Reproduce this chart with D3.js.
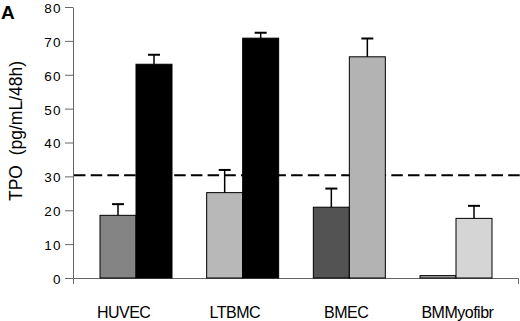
<!DOCTYPE html>
<html>
<head>
<meta charset="utf-8">
<script src="https://cdn.jsdelivr.net/npm/d3@7"></script>
<style>
  body { margin: 0; background: #fff; }
  svg { display: block; font-family: "Liberation Sans", Arial, sans-serif; }
</style>
</head>
<body>
<div id="chart"></div>
<script>
// data
const categories = ["HUVEC", "LTBMC", "BMEC", "BMMyofibr"];
const series = ["basal", "stimulated"];
const basalValues = [18.5, 25.2, 20.9, 0.7];
const basalErrors = [3.3, 6.7, 5.5, 0];
const stimValues = [63.1, 70.8, 65.3, 17.6];
const stimErrors = [2.8, 1.6, 5.4, 3.7];
const basalColors = ["#848484", "#b8b8b8", "#535353", "#a9a9a9"];
const stimColors = ["#000000", "#000000", "#b3b3b3", "#d5d5d5"];
const yTicks = [0, 10, 20, 30, 40, 50, 60, 70, 80];
const threshold = 30.3;

const width = 520, height = 321;

const svg = d3.select("#chart")
    .append("svg")
    .attr("width", width)
    .attr("height", height);

const y = d3.scaleLinear()
    .domain([0, 80])
    .range([278, 7]);

// bars sit in groups
const x0 = d3.scaleBand()
    .domain(categories)
    .range([100, 492])
    .paddingInner(0.325)
    .paddingOuter(0);

const x1 = d3.scaleBand()
    .domain(series)
    .range([0, x0.bandwidth()]);

// axis scale for the category line and labels
const xAxisScale = d3.scaleBand()
    .domain(categories)
    .range([73, 518]);

const rows = categories.map((c, i) => ({
    category: c,
    bars: [
        { key: "basal", value: basalValues[i], err: basalErrors[i], color: basalColors[i] },
        { key: "stimulated", value: stimValues[i], err: stimErrors[i], color: stimColors[i] }
    ]
}));

// dashed reference line (behind bars)
svg.append("line")
    .attr("x1", 74)
    .attr("x2", width)
    .attr("y1", y(threshold))
    .attr("y2", y(threshold))
    .attr("stroke", "#000")
    .attr("stroke-width", 2)
    .attr("stroke-dasharray", "11.5,5.2");

// y axis
const yAxis = svg.append("g")
    .attr("transform", "translate(73,0)")
    .call(d3.axisLeft(y).tickValues(yTicks).tickSize(8).tickSizeOuter(0).tickPadding(3));

yAxis.select(".domain").attr("stroke", "#666");
yAxis.selectAll(".tick line").attr("stroke", "#666");
yAxis.selectAll(".tick text")
    .attr("fill", "#000")
    .attr("font-size", "13.5px")
    .attr("letter-spacing", "1.4px")
    .attr("dy", "0.4em")
    .attr("font-family", "Liberation Sans, Arial, sans-serif");

// x axis
const xAxis = svg.append("g")
    .attr("transform", "translate(0,278)")
    .call(d3.axisBottom(xAxisScale).tickSize(0).tickSizeOuter(6));

xAxis.select(".domain").attr("stroke", "#666");
xAxis.selectAll(".tick text")
    .attr("fill", "#000")
    .attr("font-size", "16px")
    .attr("letter-spacing", "-0.5px")
    .attr("font-family", "Liberation Sans, Arial, sans-serif")
    .attr("y", 40)
    .attr("dy", 0)
    .attr("dx", -5);

// bars
const groups = svg.selectAll(".group")
    .data(rows)
    .join("g")
    .attr("class", "group")
    .attr("transform", d => `translate(${x0(d.category)},0)`);

groups.selectAll("rect")
    .data(d => d.bars)
    .join("rect")
    .attr("x", d => x1(d.key))
    .attr("y", d => y(d.value))
    .attr("width", x1.bandwidth())
    .attr("height", d => y(0) - y(d.value))
    .attr("fill", d => d.color)
    .attr("stroke", "#000")
    .attr("stroke-width", 1);

// error bars, upper half only
const errs = groups.selectAll(".err")
    .data(d => d.bars.filter(b => b.err > 0))
    .join("g")
    .attr("class", "err");

errs.append("line")
    .attr("x1", d => x1(d.key) + x1.bandwidth() / 2)
    .attr("x2", d => x1(d.key) + x1.bandwidth() / 2)
    .attr("y1", d => y(d.value))
    .attr("y2", d => y(d.value + d.err))
    .attr("stroke", "#000")
    .attr("stroke-width", 1.5);

errs.append("line")
    .attr("x1", d => x1(d.key) + x1.bandwidth() / 2 - 6)
    .attr("x2", d => x1(d.key) + x1.bandwidth() / 2 + 6)
    .attr("y1", d => y(d.value + d.err))
    .attr("y2", d => y(d.value + d.err))
    .attr("stroke", "#000")
    .attr("stroke-width", 2);

// y label
svg.append("text")
    .attr("transform", "translate(22,131) rotate(-90)")
    .attr("text-anchor", "middle")
    .attr("font-size", "17.5px")
    .attr("fill", "#000")
    .attr("xml:space", "preserve")
    .style("white-space", "pre")
    .text("TPO  (pg/mL/48h)");

// panel letter
svg.append("text")
    .attr("x", 1)
    .attr("y", 18.5)
    .attr("font-size", "19px")
    .attr("font-weight", "bold")
    .attr("fill", "#000")
    .text("A");
</script>
</body>
</html>
